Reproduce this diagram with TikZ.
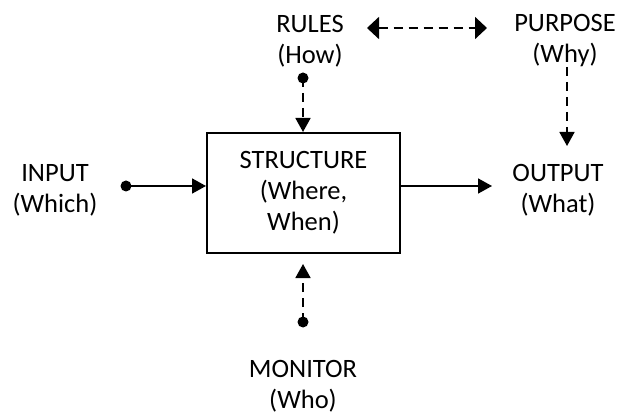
\documentclass[tikz,border=0pt]{standalone}
\usepackage{fontspec}
\setmainfont{Carlito}
\usetikzlibrary{arrows.meta}
\begin{document}
\begin{tikzpicture}[x=1pt,y=-1pt,
  lbl/.style={align=center,inner sep=0pt,font=\fontsize{26.5}{31}\selectfont},
  conn/.style={line width=1.8pt,-{Triangle[length=14pt,width=15pt]}},
  dconn/.style={conn,dash pattern=on 9pt off 6pt},
  dot/.style={circle,fill=black,inner sep=0pt,minimum size=11pt},
  blockbox/.style={draw,line width=2pt,minimum width=193pt,minimum height=120pt,align=center,inner sep=0pt,font=\fontsize{26.5}{31}\selectfont}]
\useasboundingbox (0,0) rectangle (624,414);
% box
\node[blockbox] (box) at (303.5,193) {STRUCTURE\\(Where,\\When)};
% labels
\node[lbl] (input) at (55,190) {INPUT\\(Which)};
\node[lbl] (output) at (558,190) {OUTPUT\\(What)};
\node[lbl] (rules) at (310,41) {RULES\\(How)};
\node[lbl] (purpose) at (565,41) {PURPOSE\\(Why)};
\node[lbl] (monitor) at (303,386) {MONITOR\\(Who)};
% dots and ends
\node[dot] (indot) at (126,186) {};
\node[dot] (rulesdot) at (303,78) {};
\node[dot] (mondot) at (303,322) {};
\coordinate (outtip) at (492,186);
\coordinate (monend) at (303,264);
\coordinate (purtop) at (567,67);
\coordinate (purend) at (567,146);
\coordinate (dl) at (367,28);
\coordinate (dr) at (487,28);
% connectors
\draw[conn] (indot.center) -- (indot.center -| box.west);
\draw[conn] (box.west |- outtip) ++(193,0) -- (outtip);
\draw[dconn] (rulesdot.center) -- (rulesdot.center |- box.north);
\draw[dconn] (mondot.center) -- (monend);
\draw[dconn] (purtop) -- (purend);
\draw[line width=1.8pt,dash pattern=on 9pt off 6pt,{Triangle[length=12pt,width=22pt]}-{Triangle[length=12pt,width=22pt]}] (dl) -- (dr);
\end{tikzpicture}
\end{document}
